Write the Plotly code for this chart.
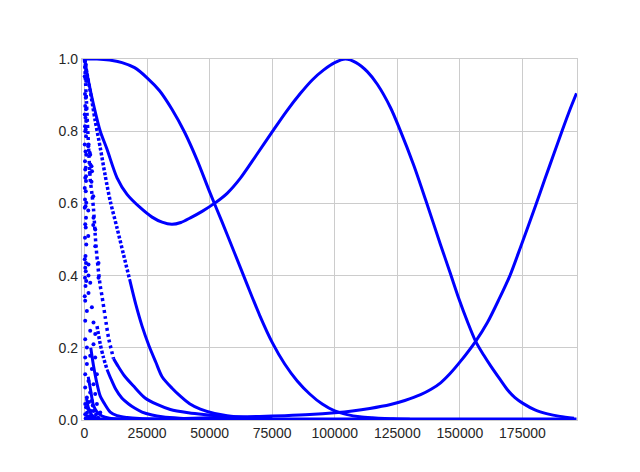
import plotly.graph_objects as go

# -----------------------------------
# Data
# -----------------------------------
a_x = [0, 5000, 10000, 15000, 20000, 25000, 30000, 35000, 40000, 45000, 50000, 55000, 60000,
       65000, 70000, 75000, 80000, 85000, 90000, 95000, 100000, 105000, 110000, 115000, 120000,
       125000, 130000]
a_y = [1.0, 1.0, 0.997, 0.99, 0.976, 0.948, 0.912, 0.86, 0.797, 0.72, 0.632, 0.548, 0.462,
       0.375, 0.29, 0.215, 0.155, 0.108, 0.072, 0.044, 0.025, 0.015, 0.009, 0.006, 0.004,
       0.003, 0.002]

b_x = [0, 1600, 3600, 6300, 9000, 13000, 17000, 22300, 27000, 31000, 34900, 38500, 42300, 47000,
       51900, 57000, 62300, 68500, 75200, 80500, 86300, 91000, 95600, 100000, 104300, 108500,
       113000, 117000, 122300, 126000, 131600, 136300, 142300, 146000, 149600, 153000, 156300,
       159500, 162300, 166000, 169000, 172000, 175200, 180000, 185000, 190000, 195600]
b_y = [1.0, 0.938, 0.874, 0.80, 0.75, 0.671, 0.625, 0.588, 0.562, 0.548, 0.542, 0.547, 0.56, 0.578,
       0.60, 0.628, 0.67, 0.732, 0.80, 0.853, 0.905, 0.942, 0.97, 0.99, 1.0, 0.99,
       0.965, 0.93, 0.865, 0.805, 0.705, 0.61, 0.485, 0.41, 0.336, 0.273, 0.218,
       0.18, 0.15, 0.113, 0.084, 0.062, 0.046, 0.028, 0.017, 0.01, 0.005]

c_x = [0, 1000, 2300, 4300, 6300, 8300, 10300, 13000, 15600, 18000, 20500, 23000, 25800, 28500,
       31000, 35000, 38300, 42000, 46300, 52000, 57000, 65000, 75000]
c_y = [1.0, 0.96, 0.91, 0.828, 0.754, 0.676, 0.606, 0.532, 0.458, 0.39, 0.32, 0.26, 0.205, 0.16,
       0.12, 0.088, 0.066, 0.045, 0.03, 0.018, 0.012, 0.007, 0.004]

d_x = [0, 800, 1600, 2300, 3000, 3600, 4300, 4900, 5600, 6300, 7000, 8300, 9600, 11600, 13500,
       16000, 19600, 24200, 29000, 34300, 41500, 47600, 56000, 66000]
d_y = [1.0, 0.88, 0.76, 0.666, 0.625, 0.585, 0.51, 0.458, 0.41, 0.371, 0.343, 0.284, 0.228, 0.17,
       0.148, 0.122, 0.094, 0.061, 0.043, 0.029, 0.02, 0.015, 0.01, 0.006]

e_x = [40000, 50000, 60000, 70000, 80000, 90000, 100000, 107000, 114000, 122300, 128000, 134300,
       138500, 142300, 146000, 150300, 156300, 161000, 165600, 170000, 174300, 180300, 184000,
       187600, 191000, 194000, 196600]
e_y = [0.004, 0.006, 0.008, 0.010, 0.012, 0.015, 0.02, 0.025, 0.032, 0.043, 0.054, 0.07,
       0.085, 0.103, 0.128, 0.163, 0.218, 0.27, 0.334, 0.40, 0.48, 0.595, 0.668,
       0.738, 0.804, 0.86, 0.905]

f_x = [5000, 6300, 7500, 9000, 10500, 12500, 15000, 17500, 20000, 23000, 27000, 31000, 38000, 48000]
f_y = [0.26, 0.21, 0.175, 0.14, 0.115, 0.085, 0.06, 0.045, 0.033, 0.022, 0.014, 0.009, 0.005, 0.003]

g_x = [2500, 3600, 5000, 6300, 8000, 10300, 13000, 17000, 22000, 30000]
g_y = [0.2, 0.15, 0.1, 0.066, 0.045, 0.022, 0.012, 0.007, 0.004, 0.002]

h_x = [1500, 2500, 3600, 5000, 7000, 10000, 15000]
h_y = [0.12, 0.08, 0.04, 0.022, 0.011, 0.005, 0.002]

i_x = [800, 1500, 2500, 4000, 6000]
i_y = [0.06, 0.035, 0.018, 0.008, 0.003]

z_x = [0, 40000, 80000, 120000, 160000, 196600]
z_y = [0.003, 0.003, 0.003, 0.003, 0.003, 0.003]

# scattered samples of the fast-oscillating curves near x = 0
s_x = [200, 500, 300, 600, 100, 400, 700, 200, 500, 300, 600, 100, 400, 700, 200, 500, 300,
       600, 100, 400, 700, 200, 500, 300, 600,
       1600, 2300, 2300, 3000,
       300, 600, 100, 500, 200, 700, 400, 100, 600, 300, 500, 200, 700, 400, 100, 600, 300,
       500, 200, 700, 400, 100,
       1600, 1600, 2300, 1600, 3600, 4300, 4300, 5600, 5600,
       1500, 2100, 2800, 2100, 2800, 3500, 1500, 3500, 1500,
       280, 950, 2950, 280, 3600, 2280, 280, 4280, 950, 3600, 280, 2280, 4280, 950, 2950,
       280, 4950, 1600, 3600, 280, 2280, 4280, 950, 2950, 280, 4950, 1600, 3600, 280,
       2280, 6280,
       500, 1200, 2000, 3000, 4000, 600, 1800, 3300, 4600, 5500, 1000, 2600]
s_y = [0.994, 0.985, 0.976, 0.966, 0.952, 0.948, 0.939, 0.903, 0.893, 0.87, 0.861, 0.846, 0.837,
       0.828, 0.814, 0.805, 0.8, 0.786, 0.763, 0.744, 0.735, 0.717, 0.699, 0.694, 0.675,
       0.763, 0.735, 0.708, 0.689,
       0.671, 0.662, 0.643, 0.634, 0.611, 0.602, 0.592, 0.588, 0.56, 0.542, 0.533, 0.505,
       0.486, 0.454, 0.445, 0.435, 0.422, 0.412, 0.394, 0.385, 0.371, 0.343,
       0.431, 0.40, 0.38, 0.352, 0.56, 0.528, 0.481, 0.435, 0.394,
       0.758, 0.74, 0.703, 0.685, 0.66, 0.62, 0.58, 0.54, 0.51,
       0.330, 0.302, 0.312, 0.275, 0.270, 0.247, 0.224, 0.238, 0.201, 0.21, 0.173, 0.178,
       0.173, 0.155, 0.141, 0.127, 0.127, 0.108, 0.099, 0.09, 0.076, 0.072, 0.062, 0.053,
       0.044, 0.044, 0.03, 0.025, 0.016, 0.011, 0.021,
       0.005, 0.01, 0.004, 0.008, 0.003, 0.035, 0.05, 0.04, 0.015, 0.006, 0.02, 0.025]

x_ticks = [0, 25000, 50000, 75000, 100000, 125000, 150000, 175000]
y_ticks = [0.0, 0.2, 0.4, 0.6, 0.8, 1.0]

BLUE = "#0000ff"

# -----------------------------------
# Figure
# -----------------------------------
fig = go.Figure()


def add_line(x, y, width=3, dash="solid"):
    fig.add_trace(
        go.Scatter(
            x=x,
            y=y,
            mode="lines",
            line=dict(color=BLUE, width=width, dash=dash, shape="spline", smoothing=0.8),
            hoverinfo="skip"
        )
    )


# near-zero band along the bottom
add_line(z_x, z_y)

# main slow curves
add_line(a_x, a_y)
add_line(b_x, b_y)
add_line(e_x, e_y)

# steep decaying curves: dotted where steep, solid where flat
add_line(c_x[:10], c_y[:10], width=3.5, dash="3px,2px")
add_line(c_x[9:], c_y[9:])
add_line(d_x[:14], d_y[:14], width=3.5, dash="3px,3px")
add_line(d_x[13:], d_y[13:])
add_line(f_x[:4], f_y[:4], width=3.5, dash="3px,2px")
add_line(f_x[3:], f_y[3:])
add_line(g_x, g_y)
add_line(h_x, h_y)
add_line(i_x, i_y)

fig.add_trace(
    go.Scatter(
        x=s_x,
        y=s_y,
        mode="markers",
        marker=dict(color=BLUE, size=4, line=dict(width=0)),
        hoverinfo="skip"
    )
)

# the page body adds an 8px offset, so margins are trimmed to match
fig.update_layout(
    width=640,
    height=472,
    showlegend=False,
    paper_bgcolor="white",
    plot_bgcolor="white",
    margin=dict(l=74, r=71, t=51, b=60),
    font=dict(family="Liberation Sans, Arial, sans-serif", size=14, color="#262626")
)

fig.update_xaxes(
    range=[-1000, 196800],
    tickvals=x_ticks,
    tickformat="d",
    showgrid=True,
    gridcolor="#cccccc",
    gridwidth=1,
    zeroline=False,
    showline=True,
    linecolor="#cccccc",
    linewidth=1.25,
    mirror=True,
    ticks=""
)

fig.update_yaxes(
    range=[0, 1.0],
    tickvals=y_ticks,
    tickformat=".1f",
    showgrid=True,
    gridcolor="#cccccc",
    gridwidth=1,
    zeroline=False,
    showline=True,
    linecolor="#cccccc",
    linewidth=1.25,
    mirror=True,
    ticks=""
)

fig.write_html("out.html")
